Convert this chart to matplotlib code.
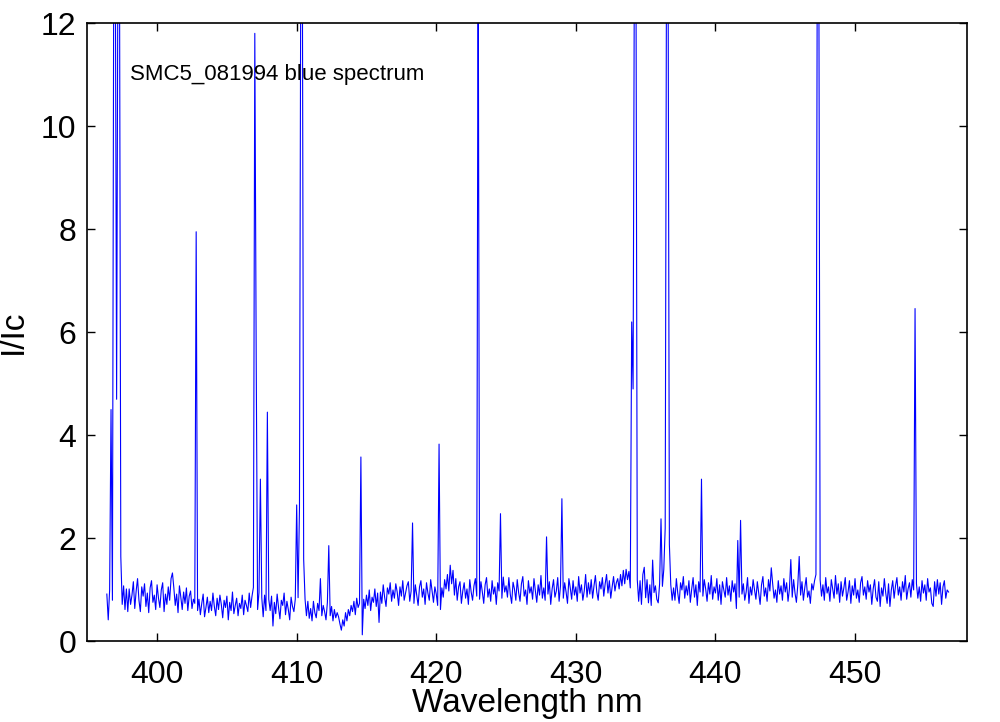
import numpy as np
import matplotlib
matplotlib.use("Agg")
import matplotlib.pyplot as plt

# spectrum sampled every 0.1 nm starting at 396.4 nm, values are I/Ic
wave_start = 396.4
wave_step = 0.1

flux_396_409 = [
    0.92, 0.42, 1.00, 4.50, 0.80, 14.0,                           # 396.4-396.9
    14.0, 4.70, 14.0, 14.0, 1.65, 0.72, 1.08, 0.62, 1.02, 0.58,   # 397
    1.02, 0.72, 0.90, 1.16, 0.64, 0.98, 1.22, 0.80, 0.58, 1.06,   # 398
    0.88, 1.12, 0.68, 0.94, 0.56, 1.04, 1.18, 0.76, 0.90, 0.62,   # 399
    1.10, 0.84, 0.66, 1.00, 1.14, 0.58, 0.92, 0.72, 1.06, 0.80,   # 400
    1.22, 1.33, 1.04, 0.70, 0.92, 0.56, 1.08, 0.86, 0.62, 0.96,   # 401
    0.74, 1.04, 0.60, 0.88, 0.98, 0.64, 0.82, 0.74, 7.95, 0.60,   # 402
    0.82, 0.52, 0.74, 0.92, 0.48, 0.66, 0.86, 0.56, 0.78, 0.60,   # 403
    0.94, 0.68, 0.50, 0.84, 0.62, 0.90, 0.72, 0.46, 0.80, 0.66,   # 404
    0.88, 0.42, 0.76, 0.60, 0.96, 0.54, 0.70, 0.84, 0.50, 0.74,   # 405
    0.64, 0.90, 0.52, 0.80, 0.70, 0.58, 0.94, 0.66, 0.88, 1.05,   # 406
    11.8, 5.50, 0.62, 0.95, 3.15, 0.85, 0.48, 0.90, 0.60, 4.45,   # 407
    0.82, 0.60, 0.88, 0.30, 0.76, 0.54, 0.92, 0.66, 0.44, 0.80,   # 408
    0.70, 0.94, 0.52, 0.78, 0.62, 0.42, 0.86, 0.68, 0.58, 0.82,   # 409
]
flux_410_424 = [
    2.65, 0.85, 2.60, 14.0, 14.0, 1.60, 0.82, 0.50, 0.78, 0.45,   # 410
    0.64, 0.40, 0.78, 0.56, 0.46, 0.74, 0.60, 1.22, 0.50, 0.70,   # 411
    0.58, 0.42, 0.76, 1.86, 0.50, 0.68, 0.40, 0.62, 0.46, 0.56,   # 412
    0.48, 0.34, 0.22, 0.42, 0.30, 0.56, 0.40, 0.62, 0.50, 0.70,   # 413
    0.58, 0.78, 0.52, 0.84, 0.66, 0.74, 3.58, 0.13, 0.82, 0.64,   # 414
    0.90, 0.70, 1.00, 0.60, 0.86, 0.76, 1.02, 0.68, 0.94, 0.37,   # 415
    0.96, 0.74, 1.10, 0.86, 0.68, 1.04, 0.92, 1.14, 0.78, 1.00,   # 416
    0.84, 1.12, 0.96, 0.70, 1.06, 0.88, 1.18, 0.80, 0.94, 1.08,   # 417
    1.16, 0.78, 0.98, 2.30, 0.74, 1.10, 0.90, 0.70, 1.06, 1.18,   # 418
    0.86, 1.02, 0.72, 1.14, 0.94, 0.80, 1.20, 0.98, 0.76, 1.06,   # 419
    0.92, 0.70, 3.83, 0.62, 1.04, 0.86, 1.20, 1.02, 1.30, 0.98,   # 420
    1.48, 1.12, 1.38, 0.90, 1.22, 0.80, 1.06, 1.16, 0.74, 0.98,   # 421
    1.14, 0.84, 1.02, 0.72, 1.20, 0.96, 0.80, 1.08, 1.22, 0.88,   # 422
    14.0, 0.82, 1.16, 0.96, 0.74, 1.10, 1.24, 0.86, 1.02, 0.78,   # 423
    1.18, 0.92, 1.06, 0.72, 1.14, 0.98, 2.48, 0.84, 1.25, 0.96,   # 424
]
flux_425_439 = [
    1.08, 0.86, 1.24, 0.92, 0.74, 1.15, 1.02, 0.80, 1.20, 0.95,   # 425
    0.78, 1.12, 1.26, 0.88, 1.00, 0.72, 1.18, 0.94, 1.06, 0.82,   # 426
    1.22, 0.98, 0.76, 1.10, 0.90, 1.28, 0.84, 1.04, 0.80, 2.03,   # 427
    0.92, 1.16, 0.72, 1.02, 1.20, 0.86, 0.98, 1.24, 0.78, 1.08,   # 428
    2.77, 0.84, 1.14, 0.96, 0.74, 1.22, 1.04, 0.82, 1.18, 0.90,   # 429
    1.06, 0.78, 1.26, 0.94, 1.10, 0.80, 0.98, 1.30, 0.86, 1.14,   # 430
    0.92, 1.20, 0.84, 1.08, 1.28, 0.96, 0.80, 1.16, 1.02, 1.24,   # 431
    0.88, 1.12, 1.30, 0.94, 1.18, 0.84, 1.06, 1.26, 0.98, 1.14,   # 432
    1.22, 1.02, 1.30, 1.08, 1.38, 1.12, 1.40, 1.20, 1.36, 1.04,   # 433
    6.20, 4.90, 14.0, 14.0, 1.20, 0.78, 1.18, 0.72, 1.30, 1.44,   # 434
    0.85, 1.20, 0.75, 1.10, 0.70, 1.58, 0.95, 1.08, 0.82, 0.75,   # 435
    1.12, 2.38, 1.07, 1.40, 2.20, 14.0, 14.0, 1.88, 1.10, 0.80,   # 436
    1.04, 0.80, 1.22, 0.94, 0.74, 1.14, 1.00, 1.26, 0.84, 1.08,   # 437
    0.90, 1.18, 0.76, 1.02, 1.24, 0.86, 1.10, 0.70, 1.16, 0.96,   # 438
    3.15, 0.88, 1.20, 1.02, 0.78, 1.14, 0.92, 1.28, 0.82, 1.06,   # 439
]
flux_440_456 = [
    0.94, 1.22, 0.80, 1.10, 0.72, 1.16, 1.00, 0.86, 1.24, 0.90,   # 440
    1.08, 0.78, 1.18, 0.96, 1.12, 0.64, 1.96, 0.86, 2.35, 0.92,   # 441
    1.12, 0.80, 0.96, 1.24, 0.74, 1.06, 0.90, 1.20, 1.00, 0.82,   # 442
    1.16, 0.94, 0.72, 1.10, 1.26, 0.88, 1.04, 0.78, 1.20, 0.98,   # 443
    1.43, 1.12, 0.84, 1.00, 0.76, 1.18, 0.92, 1.08, 0.80, 1.22,   # 444
    0.96, 1.14, 0.78, 1.02, 1.59, 0.86, 1.20, 0.94, 0.76, 1.10,   # 445
    1.65, 0.90, 1.16, 0.80, 1.04, 1.24, 0.86, 0.98, 0.74, 1.12,   # 446
    1.00, 1.18, 1.30, 14.0, 14.0, 1.20, 0.88, 1.10, 0.80, 1.24,   # 447
    0.94, 1.06, 0.78, 1.20, 1.02, 0.84, 1.28, 0.92, 1.12, 0.76,   # 448
    1.16, 0.88, 1.04, 1.24, 0.80, 0.96, 1.18, 0.74, 1.08, 0.90,   # 449
    1.22, 0.84, 1.00, 0.76, 1.14, 1.26, 0.90, 1.06, 0.82, 1.18,   # 450
    0.96, 1.10, 0.72, 1.02, 1.20, 0.86, 0.78, 1.16, 0.68, 1.04,   # 451
    0.88, 1.22, 0.94, 0.74, 1.12, 0.68, 1.00, 1.18, 0.84, 1.08,   # 452
    1.24, 0.90, 1.06, 0.80, 1.16, 0.96, 1.28, 0.82, 1.02, 1.14,   # 453
    0.86, 1.20, 1.00, 6.46, 1.12, 0.84, 1.06, 0.78, 1.18, 0.94,   # 454
    1.10, 0.80, 1.22, 0.96, 1.04, 0.74, 0.68, 1.16, 0.88, 1.20,   # 455
    0.92, 1.14, 0.72, 1.06, 1.18, 0.84, 1.00, 0.96,               # 456.0-456.7
]

flux = np.array(flux_396_409 + flux_410_424 + flux_425_439 + flux_440_456)
wave = wave_start + wave_step * np.arange(len(flux))

x_ticks = [400, 410, 420, 430, 440, 450]
y_ticks = [0, 2, 4, 6, 8, 10, 12]

plt.rcParams['font.family'] = ['Liberation Sans', 'DejaVu Sans']

fig = plt.figure(figsize=(10, 7.22), dpi=100)
ax = fig.add_axes([0.0873, 0.1115, 0.8794, 0.8566])

ax.plot(wave, flux, color="#0000ff", linewidth=0.8)

ax.set_xlim(395, 458)
ax.set_ylim(0, 12)
ax.set_xticks(x_ticks)
ax.set_yticks(y_ticks)
ax.tick_params(direction='in', length=6, width=1, top=True, right=True, labelsize=23)
ax.tick_params(axis='x', pad=13)
ax.tick_params(axis='y', pad=8)
for sp in ax.spines.values():
    sp.set_linewidth(1.2)

ax.set_xlabel("Wavelength nm", fontsize=24)
ax.set_ylabel("I/Ic", fontsize=24)
ax.xaxis.set_label_coords(0.5, -0.075)
ax.yaxis.set_label_coords(-0.066, 0.5)

ax.text(398.05, 11.0, "SMC5_081994 blue spectrum", fontsize=16, va='center', ha='left')

fig.savefig("out.png", dpi=100)
